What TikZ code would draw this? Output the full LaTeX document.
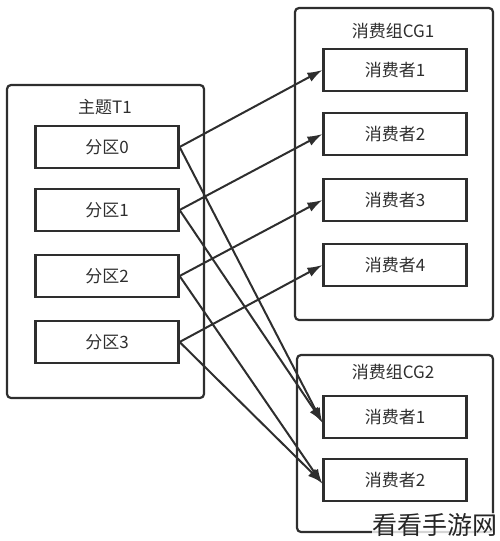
\documentclass[tikz,border=0pt]{standalone}
\usepackage{fontspec}
\setmainfont{Noto Sans CJK SC}
\usetikzlibrary{arrows.meta}
\definecolor{ink}{HTML}{2E2E2E}
\begin{document}
\begin{tikzpicture}[x=1pt,y=-1pt,
  group/.style={draw=ink,line width=2.2pt,rounded corners=4pt},
  item/.style={draw=ink,line width=2.2pt,minimum width=143pt,minimum height=42pt,inner sep=0pt,text=ink,font=\fontsize{17}{19}\selectfont},
  ttl/.style={text=ink,font=\fontsize{17}{19}\selectfont,inner sep=0pt},
  link/.style={draw=ink,line width=2pt,-{Latex[length=15pt,width=10pt]}}]
\useasboundingbox (0,0) rectangle (500,541);
% groups
\draw[group] (7,85) rectangle (204,398);
\draw[group] (295,8) rectangle (493,320);
\draw[group] (297,355) rectangle (493,532);
\node[ttl] (t1) at (105,107) {主题T1};
\node[ttl] (cg1) at (393,31) {消费组CG1};
\node[ttl] (cg2) at (393,372) {消费组CG2};
% partitions
\node[item] (p0) at (107,147) {分区0};
\node[item] (p1) at (107,210) {分区1};
\node[item] (p2) at (107,276) {分区2};
\node[item] (p3) at (107,342) {分区3};
% consumers CG1
\node[item] (a1) at (395,70) {消费者1};
\node[item] (a2) at (395,134) {消费者2};
\node[item] (a3) at (395,200) {消费者3};
\node[item] (a4) at (395,265) {消费者4};
% consumers CG2
\node[item] (b1) at (395,417) {消费者1};
\node[item] (b2) at (395,480) {消费者2};
% links
\draw[link] (p0.east) -- (a1.west);
\draw[link] (p1.east) -- (a2.west);
\draw[link] (p2.east) -- (a3.west);
\draw[link] (p3.east) -- (a4.west);
\draw[link] (p0.east) -- ([yshift=-6pt]b1.west);
\draw[link] (p1.east) -- ([yshift=-5pt]b1.west);
\draw[link] (p2.east) -- ([yshift=-4pt]b2.west);
\draw[link] (p3.east) -- ([yshift=-3pt]b2.west);
% watermark
\node[fill=white,fill opacity=0.8,text opacity=1,text=black!85,inner sep=1pt,anchor=south east,font=\fontsize{25}{27}\selectfont] (wm) at (499,538) {看看手游网};
\end{tikzpicture}
\end{document}
